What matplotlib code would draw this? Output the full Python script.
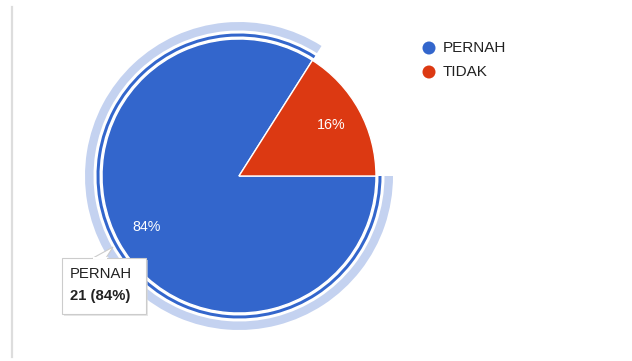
import numpy as np
import matplotlib
matplotlib.use('Agg')
import matplotlib.pyplot as plt
from matplotlib.patches import Wedge, Rectangle, Polygon, Circle

plt.rcParams['font.family'] = ['Liberation Sans', 'DejaVu Sans']

# survey answers
labels = ['PERNAH', 'TIDAK']
counts = [21, 4]
colors = ['#3366cc', '#dc3912']

W, H = 632, 361
fig = plt.figure(figsize=(W / 100, H / 100), dpi=100)
ax = fig.add_axes([0, 0, 1, 1])

cx, cy, R = 239, H - 176, 137

wedges, texts, autotexts = ax.pie(
    counts, colors=colors, startangle=0, counterclock=False,
    center=(cx, cy), radius=R, autopct='%1.0f%%', pctdistance=0.77,
    wedgeprops=dict(edgecolor='white', linewidth=1),
    textprops=dict(color='white', fontsize=10.3))

# highlight of the selected slice: outline ring plus light halo
sel = wedges[0]
t1, t2 = sel.theta1, sel.theta2
ax.add_patch(Wedge((cx, cy), R + 5.5, t1, t2, width=3, facecolor='#3366cc',
                   edgecolor='none'))
ax.add_patch(Wedge((cx, cy), R + 17, t1, t2, width=8.5, facecolor='#c4d2f0',
                   edgecolor='none'))

# legend
for i, (lab, col) in enumerate(zip(labels, colors)):
    ly = H - (48 + 24 * i)
    ax.add_patch(Circle((429, ly), 6.5, facecolor=col, edgecolor='none'))
    ax.text(443, ly, lab, fontsize=11, color='#222222', va='center', ha='left')

# tooltip for the selected slice
pct = 100 * counts[0] / sum(counts)
bx0, bx1, by0, by1 = 62, 146, H - 314, H - 258
ax.add_patch(Rectangle((bx0 + 1.5, by0 - 2), bx1 - bx0, by1 - by0,
                       facecolor='#d8d8d8', edgecolor='none', alpha=0.6))
ax.add_patch(Rectangle((bx0, by0), bx1 - bx0, by1 - by0,
                       facecolor='white', edgecolor='#cccccc', linewidth=0.8))
ax.add_patch(Polygon([(93, by1), (113, H - 247), (106, by1)], closed=True,
                     facecolor='white', edgecolor='#cccccc', linewidth=0.8))
ax.add_patch(Rectangle((92.5, by1 - 1.2), 14, 2.2, facecolor='white',
                       edgecolor='none'))
ax.text(70, H - 274, labels[0], fontsize=10.7, color='#222222', va='center')
ax.text(70, H - 296, '%d (%d%%)' % (counts[0], round(pct)), fontsize=10.7,
        color='#222222', va='center', fontweight='bold')

# left border line
ax.plot([12, 12], [H - 7, H - 357], color='#dddddd', linewidth=1.6)

ax.set_xlim(0, W)
ax.set_ylim(0, H)
ax.set_aspect('auto')
ax.axis('off')

fig.savefig('out.png', dpi=100)
